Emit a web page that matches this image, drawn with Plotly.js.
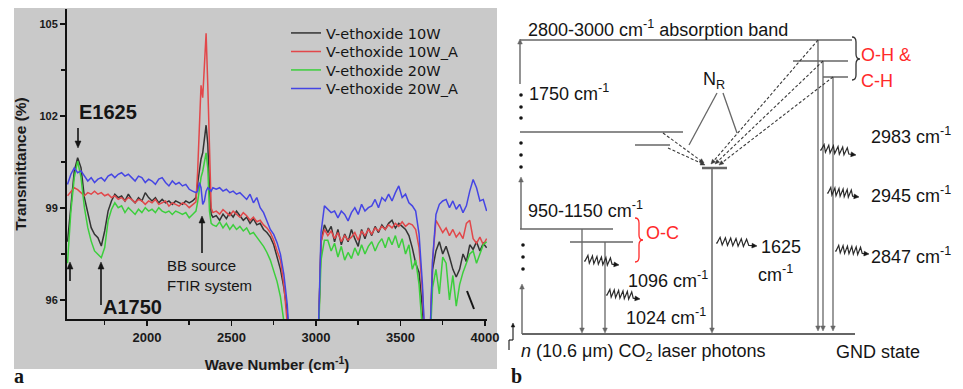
<!DOCTYPE html>
<html><head><meta charset="utf-8">
<script src="https://cdn.plot.ly/plotly-3.0.1.min.js"></script>
<style>html,body{margin:0;padding:0;background:#fff}#chart{width:963px;height:389px}</style>
</head><body><div id="chart"></div>
<script>
// ---------------- DATA ----------------
const wavenumber = [
1530,1550,1570,1590,1610,1630,1650,1670,1690,1710,1730,1750,1770,1790,1810,1830,1850,1870,1890,1910,
1930,1950,1970,1990,2010,2030,2050,2070,2090,2110,2130,2150,2170,2190,2210,2230,2250,2270,2290,
2300,2310,2320,2330,2340,2350,2360,2370,2380,2390,
2410,2430,2450,2470,2490,2510,2530,2550,2570,2590,2610,2630,2650,2670,2690,2710,2730,2750,2770,2790,2810,2830,2850,
3010,3030,3050,3070,3090,3110,3130,3150,3170,3190,3210,3230,3250,3270,3290,3310,3330,3350,3370,3390,
3410,3430,3450,3470,3490,3510,3530,3550,3570,3590,3610,3630,3650,3670,3690,3710,3730,3750,3770,3790,
3810,3830,3850,3870,3890,3910,3930,3950,3970,3990,4010];

const vEthoxide10W = [
97.9,99.12,100.2,100.64,100.31,99.34,98.79,98.36,98.14,98.03,97.76,98.25,98.9,99.23,99.45,99.34,99.39,99.23,99.45,99.28,
99.17,99.34,99.23,99.5,99.34,99.23,99.34,99.17,99.28,99.17,99.23,99.12,99.23,99.17,99.12,99.23,99.17,99.23,99.34,
99.8,100.3,100.6,100.8,101.2,101.7,101.1,99.6,98.8,98.7,
98.75,98.6,98.8,98.65,98.85,98.7,98.9,98.75,98.6,98.7,98.5,98.65,98.45,98.5,98.3,98.2,98.05,97.8,97.4,97.0,96.4,95.6,94,
94,97.9,98.45,98.2,98.4,97.9,98.3,97.8,98.15,97.9,98.3,98.0,97.75,98.3,98.0,98.35,98.1,98.4,98.2,98.45,
98.3,98.5,98.6,98.35,98.5,98.4,98.3,98.1,97.7,97.2,96.9,95.7,94,94,97.0,97.6,97.9,97.5,97.75,97.4,
97.0,96.75,97.0,97.5,97.25,97.8,97.65,97.9,97.6,97.85,97.7];

const vEthoxide10WA = [
99.4,99.55,99.66,99.6,99.5,99.4,99.5,99.45,99.55,99.45,99.5,99.4,99.45,99.34,99.4,99.28,99.34,99.23,99.34,99.28,
99.17,99.28,99.23,99.12,99.23,99.17,99.28,99.12,99.17,99.23,99.06,99.17,99.12,99.06,99.17,99.12,99.01,99.12,99.2,
100.2,101.4,103.0,102.6,103.8,104.7,103.0,101.2,99.0,98.85,
98.9,98.8,98.95,98.85,98.75,98.9,98.8,98.7,98.85,98.75,98.6,98.7,98.55,98.6,98.45,98.35,98.2,97.95,97.6,97.3,96.5,95.4,94,
94,97.9,98.3,98.1,98.25,98.0,98.2,97.9,98.1,97.95,98.05,98.2,97.95,98.25,98.1,98.3,98.15,98.35,98.25,98.4,
98.3,98.45,98.35,98.5,98.4,98.55,98.4,98.5,98.45,98.3,97.7,96.3,94,94,97.3,98.6,98.4,98.2,98.35,98.1,
98.3,98.05,98.2,98.0,98.5,98.6,98.0,97.85,98.05,97.8,98.0];

const vEthoxide20W = [
97.2,98.9,99.99,100.53,99.99,99.01,98.36,97.92,97.6,97.49,97.38,97.71,98.58,98.95,99.17,99.01,99.07,98.85,99.01,98.9,
98.79,98.96,98.85,99.01,98.9,98.96,98.85,99.01,98.9,98.85,98.9,98.79,98.9,98.85,98.79,98.85,98.68,98.79,98.9,
99.2,99.6,100.0,100.2,100.5,100.8,100.3,98.9,98.5,98.45,
98.4,98.55,98.35,98.5,98.3,98.45,98.3,98.4,98.25,98.35,98.15,98.2,98.05,97.9,97.75,97.55,97.3,96.95,96.6,96.1,95.3,94,94,
94,97.3,97.95,97.95,97.6,97.85,97.4,97.75,97.3,97.55,97.35,97.7,97.45,97.8,97.5,97.75,97.9,97.6,97.85,98.0,
97.7,98.05,97.8,98.1,97.7,98.0,97.5,97.8,97.0,97.3,96.5,95.0,94,94,96.4,97.0,96.2,97.4,97.2,96.0,
96.8,95.8,96.5,96.9,97.2,97.5,97.6,97.2,97.5,97.8,97.9];

const vEthoxide20WA = [
99.77,100.1,100.31,100.15,100.21,100.04,99.88,99.99,99.83,99.94,99.99,99.88,100.04,100.1,99.99,100.1,100.15,100.04,100.1,99.99,
99.88,100.04,99.99,99.83,99.94,99.88,99.77,99.94,99.99,99.83,99.72,99.88,99.77,99.83,99.72,99.77,99.61,99.55,99.5,
99.55,99.83,99.66,99.12,99.23,99.55,99.66,99.61,99.55,99.66,
99.61,99.66,99.55,99.61,99.5,99.55,99.45,99.5,99.39,99.28,99.45,99.17,99.34,99.01,98.85,98.58,98.3,98.14,97.87,97.49,96.84,95.86,94,
94,98.2,99.07,98.95,98.85,98.9,98.68,98.9,98.79,98.58,98.85,99.01,98.79,99.12,98.9,99.01,99.07,99.28,99.01,99.34,
99.23,99.45,99.23,99.5,99.72,99.34,99.45,99.17,99.07,98.9,98.15,96.5,94,94,97.3,98.79,99.12,99.23,99.28,99.01,
99.23,98.96,99.12,98.85,99.07,99.55,99.93,99.66,99.23,99.28,98.9];

const seriesNames = ['V-ethoxide 10W','V-ethoxide 10W_A','V-ethoxide 20W','V-ethoxide 20W_A'];
const xTickVals = [2000,2500,3000,3500,4000];
const xTickText = ['2000','2500','3000','3500','4000'];
const xMinorTicks = [1750,2250,2750,3250,3750];
const yTickVals = [96,99,102,105];
const yTickText = ['96','99','102','105'];
const yMinorTicks = [97.5,100.5,103.5];

// ---------------- STYLE / GEOMETRY ----------------
const W = 963, H = 389;
const SANS = 'Liberation Sans, Arial, Helvetica, sans-serif';
const WIDE = 'DejaVu Sans, Liberation Sans, sans-serif';
const SERIF = 'Liberation Serif, Times New Roman, serif';
const fx = x => x / W, fy = y => 1 - y / H;
const colors = ['#333333','#e2474a','#3ccf3c','#4545e4'];
const GRAY = '#666666', INK = '#151515', RED = '#ff2a2a';

const shapes = [], annotations = [];

function line(x0,y0,x1,y1,color,width,dash){
  shapes.push({type:'line', xref:'paper', yref:'paper', x0:fx(x0), y0:fy(y0), x1:fx(x1), y1:fy(y1),
    line:{color:color, width:width, dash:dash||'solid'}});
}
function pathPx(str){
  const tok = str.trim().split(/\s+/); let out=[], k=0;
  for (const t of tok){ if (/^[A-Za-z]$/.test(t)) { out.push(t); k=0; } else { const v=parseFloat(t); out.push((k%2===0? fx(v): fy(v)).toFixed(5)); k++; } }
  return out.join(' ');
}
function pathShape(str,color,width,fill){
  shapes.push({type:'path', xref:'paper', yref:'paper', path:pathPx(str), line:{color:color, width:width}, fillcolor:fill||'rgba(0,0,0,0)'});
}
function head(hx,hy,ux,uy,hl,hw,color){
  const nx=-uy, ny=ux, bx=hx-ux*hl, by=hy-uy*hl;
  pathShape('M '+hx.toFixed(2)+' '+hy.toFixed(2)+' L '+(bx+nx*hw).toFixed(2)+' '+(by+ny*hw).toFixed(2)+' L '+(bx-nx*hw).toFixed(2)+' '+(by-ny*hw).toFixed(2)+' Z', color, 0.5, color);
}
function arrow(tx,ty,hx,hy,color,width,hl,hw,dash){
  const L=Math.hypot(hx-tx,hy-ty), ux=(hx-tx)/L, uy=(hy-ty)/L;
  line(tx,ty,hx-ux*hl*0.7,hy-uy*hl*0.7,color,width,dash);
  head(hx,hy,ux,uy,hl,hw,color);
}
function label(text,x,y,opts){
  annotations.push(Object.assign({xref:'paper', yref:'paper', x:fx(x), y:fy(y), xanchor:'left', yanchor:'middle',
    text:text, showarrow:false, font:{family:SANS, size:18, color:INK}}, opts||{}));
}
function dot(x,y){
  shapes.push({type:'circle', xref:'paper', yref:'paper', x0:fx(x-1.8), x1:fx(x+1.8), y0:fy(y+1.8), y1:fy(y-1.8), fillcolor:INK, line:{width:0}});
}
function wavy(x0,y0,x1,y1){
  const dx=x1-x0, dy=y1-y0, L=Math.hypot(dx,dy), ux=dx/L, uy=dy/L, nx=-uy, ny=ux;
  const n=12, s0=1, s1=L*0.8, amp=6;
  let d = 'M '+x0+' '+y0;
  for (let i=0;i<=n;i++){
    const t = s0 + (s1-s0)*i/n;
    const o = (i===0||i===n) ? 0 : (i%2 ? -amp : amp*0.25);
    d += ' L '+(x0+ux*t+nx*o).toFixed(2)+' '+(y0+uy*t+ny*o).toFixed(2);
  }
  d += ' L '+(x1-ux*4).toFixed(2)+' '+(y1-uy*4).toFixed(2);
  pathShape(d, '#2a2a2a', 1.2);
  head(x1,y1,ux,uy,5,2.4,INK);
}

// gray panel behind plot (a)
shapes.push({type:'rect', xref:'paper', yref:'paper', x0:fx(14), x1:fx(497), y0:fy(369), y1:fy(8), fillcolor:'#c9c9c9', line:{width:0}, layer:'below'});

// ---- panel (a) annotations ----
label('<b>E1625</b>', 77, 112, {font:{family:SANS, size:20, color:INK}});
label('<b>A1750</b>', 101, 307, {font:{family:SANS, size:20, color:INK}});
label('BB source<br>FTIR system', 165, 275, {align:'left', font:{family:SANS, size:15, color:INK}});
arrow(78,128,78,148, INK,1.6,7,3);
arrow(202,253,202,216, INK,1.6,7,3);
arrow(101,305,101,262, INK,1.6,7,3);
arrow(70,281,70,262, INK,1.6,7,3);
line(474,309,467,291, INK,2);
label('<b>a</b>', 12, 376, {font:{family:SERIF, size:20, color:INK}});

// ---- panel (b): energy level diagram ----
line(520,40,852,40, GRAY,1.5);
line(793,61,848,61, GRAY,1.5);
line(823,77,848,77, GRAY,1.5);
line(520,132,683,132, GRAY,1.5);
line(635,145,670,145, GRAY,1.5);
line(702,168,727,168, GRAY,2.5);
line(520,229,613,229, GRAY,1.5);
line(570,242,633,242, GRAY,1.5);
line(522,334,855,334, GRAY,2);
arrow(520,84,520,39, GRAY,1.4,5,2.3);
arrow(521,229,521,177, GRAY,1.4,5,2.3);
arrow(522,334,522,284, GRAY,1.4,5,2.3);
[95,107,118,143,155,167].forEach(y=>dot(521,y));
[245,257,269].forEach(y=>dot(523,y));
arrow(582,229,582,333, GRAY,1.3,5,2.3);
arrow(605,242,605,333, GRAY,1.3,5,2.3);
arrow(712,168,712,333, GRAY,1.5,5,2.3);
arrow(818,40,818,331, GRAY,1.3,5,2.3);
arrow(823,61,823,331, GRAY,1.3,5,2.3);
arrow(833,77,833,331, GRAY,1.3,5,2.3);
const dashed = [[663,133,704,163],[668,148,705,165],[818,40,711,164],[823,61,715,164],[833,77,719,165]];
dashed.forEach(d=>arrow(d[0],d[1],d[2],d[3], '#3a3a3a',1.1,4.5,2,'3px,2px'));
line(717,93,689,145, GRAY,1.3);
line(723,93,737,133, GRAY,1.3);
label('N<sub>R</sub>', 714, 81, {xanchor:'center'});
wavy(584,261,619,265);
wavy(606,295,640,299);
wavy(716,243,757,246);
wavy(820,150,856,155);
wavy(827,193,859,197);
wavy(835,251,869,254);
pathShape('M 635 218 Q 639 218 639 223 L 639 235 Q 639 240 643 240 Q 639 240 639 245 L 639 257 Q 639 262 635 262', RED,1.3);
pathShape('M 852 37 Q 856 37 856 42 L 856 54 Q 856 59 860 59 Q 856 59 856 64 L 856 75 Q 856 80 852 80', '#333',1.3);
arrow(513,340,513,323, INK,1.1,4,1.8);
line(509,340,513,340, INK,1.1);
line(509,340,509,350, INK,1.1);
label('2800-3000 cm<sup>-1</sup> absorption band', 526, 29);
label('1750 cm<sup>-1</sup>', 527, 92);
label('950-1150 cm<sup>-1</sup>', 526, 209);
label('O-C', 644, 233, {font:{family:SANS, size:18, color:RED}});
label('1096 cm<sup>-1</sup>', 626, 279);
label('1024 cm<sup>-1</sup>', 624, 316);
label('1625', 759, 247);
label('cm<sup>-1</sup>', 756, 273);
label('O-H &amp;', 859, 55, {font:{family:SANS, size:18, color:RED}});
label('C-H', 859, 81, {font:{family:SANS, size:18, color:RED}});
label('2983 cm<sup>-1</sup>', 869, 135);
label('2945 cm<sup>-1</sup>', 869, 195);
label('2847 cm<sup>-1</sup>', 869, 255);
label('GND state', 834, 352);
label('<i>n</i> (10.6 μm) CO<sub>2</sub> laser photons', 519, 352);
label('<b>b</b>', 509, 376, {font:{family:SERIF, size:20, color:INK}});

// ---------------- TRACES ----------------
const series = [vEthoxide10W, vEthoxide10WA, vEthoxide20W, vEthoxide20WA];
const legendIds = ['legend','legend2','legend3','legend4'];
const traces = series.map((ys,i)=>({type:'scatter', mode:'lines', x:wavenumber, y:ys, name:seriesNames[i],
  legend:legendIds[i], line:{color:colors[i], width:1.5}, hoverinfo:'x+y+name'}));

const tickFont = sz => ({family:SANS, size:sz, color:'#1a1a1a', weight:'bold'});
const xRange = [1527, 4012], yRange = [95.38, 105.49];
const legendRowY = [33, 51.5, 70, 88.5];
const legendBox = y => ({x:fx(286), y:fy(y), xanchor:'left', yanchor:'middle', bgcolor:'rgba(0,0,0,0)', borderwidth:0,
    font:{family:WIDE, size:14.5, color:INK}});

const layout = {
  width:W, height:H, margin:{l:0,r:0,t:0,b:0}, paper_bgcolor:'#ffffff', plot_bgcolor:'rgba(0,0,0,0)',
  showlegend:true,
  legend:legendBox(legendRowY[0]), legend2:legendBox(legendRowY[1]), legend3:legendBox(legendRowY[2]), legend4:legendBox(legendRowY[3]),
  xaxis:{domain:[fx(67), fx(487)], range:xRange, anchor:'y', showline:true, linecolor:'#111', linewidth:2,
    ticks:'outside', ticklen:5, tickwidth:1.5, tickcolor:'#111', tickmode:'array', tickvals:xTickVals, ticktext:xTickText,
    tickfont:tickFont(13), minor:{tickmode:'array', tickvals:xMinorTicks, ticks:'outside', ticklen:4, tickwidth:1.5, tickcolor:'#111'},
    showgrid:false, zeroline:false,
    title:{text:'Wave Number (cm<sup>-1</sup>)', font:{family:SANS, size:15, color:'#1a1a1a', weight:'bold'}, standoff:16}},
  yaxis:{domain:[fy(319), fy(9)], range:yRange, anchor:'x', showline:true, linecolor:'#111', linewidth:2,
    ticks:'outside', ticklen:5, tickwidth:1.5, tickcolor:'#111', tickmode:'array', tickvals:yTickVals, ticktext:yTickText,
    tickfont:tickFont(11), minor:{tickmode:'array', tickvals:yMinorTicks, ticks:'outside', ticklen:4, tickwidth:1.5, tickcolor:'#111'},
    showgrid:false, zeroline:false,
    title:{text:'Transmittance (%)', font:{family:SANS, size:15.5, color:'#1a1a1a', weight:'bold'}, standoff:9}},
  xaxis3:{overlaying:'x', side:'top', anchor:'y', range:xRange, showline:true, linecolor:'#111', linewidth:2,
    ticks:'inside', ticklen:5, tickwidth:1.5, tickcolor:'#111', tickmode:'array', tickvals:xTickVals, showticklabels:false,
    minor:{tickmode:'array', tickvals:xMinorTicks, ticks:'inside', ticklen:4, tickwidth:1.5, tickcolor:'#111'},
    showgrid:false, zeroline:false},
  yaxis3:{overlaying:'y', side:'right', anchor:'x', range:yRange, showline:true, linecolor:'#111', linewidth:2,
    ticks:'inside', ticklen:5, tickwidth:1.5, tickcolor:'#111', tickmode:'array', tickvals:yTickVals, showticklabels:false,
    minor:{tickmode:'array', tickvals:yMinorTicks, ticks:'inside', ticklen:4, tickwidth:1.5, tickcolor:'#111'},
    showgrid:false, zeroline:false},
  shapes:shapes, annotations:annotations
};

Plotly.newPlot('chart', traces, layout, {displayModeBar:false, staticPlot:true});
</script></body></html>
